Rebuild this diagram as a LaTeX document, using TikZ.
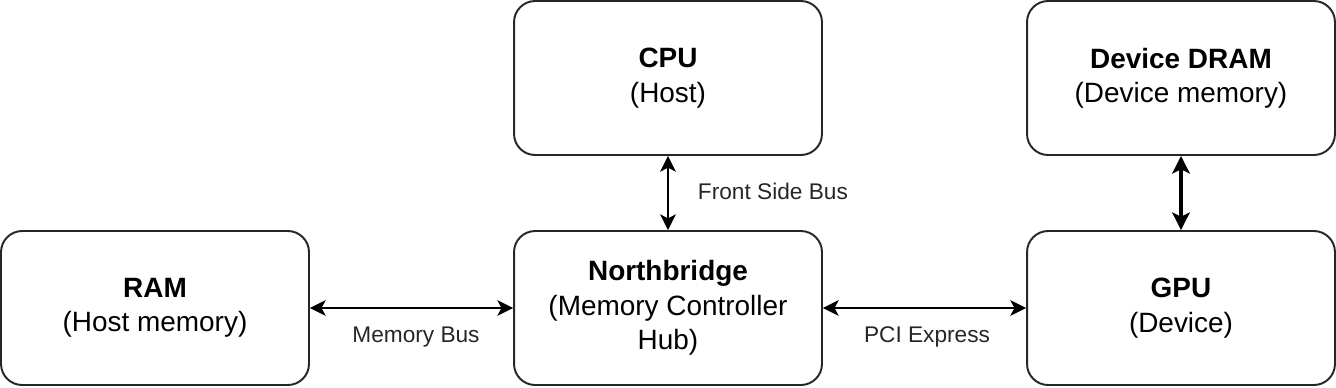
\documentclass[tikz,border=0pt]{standalone}
\usepackage{fontspec}
\setmainfont{Liberation Sans}
\usetikzlibrary{arrows.meta}

\begin{document}
\begin{tikzpicture}[
    x=0.02cm, y=-0.02cm,
    box/.style={draw=black!85, line width=1.1pt, rounded corners=12pt, align=center,
        minimum width=6.16cm, minimum height=3.08cm, inner sep=2pt,
        font=\fontsize{15.9}{19.6}\selectfont},
    lbl/.style={font=\fontsize{12.9}{15}\selectfont, text=black!85, inner sep=0pt},
    bus/.style={{Stealth[length=9pt, width=9pt, inset=2.4pt]}-{Stealth[length=9pt, width=9pt, inset=2.4pt]}, line width=1.1pt},
    membus/.style={{Stealth[length=10pt, width=10pt, inset=2.4pt]}-{Stealth[length=10pt, width=10pt, inset=2.4pt]}, line width=2.2pt}]

    \useasboundingbox (0,0) rectangle (1336,387);

    % host side
    \node[box] (cpu) at (668,78) {\textbf{CPU}\\(Host)};
    \node[box] (nb) at (668,308) {\textbf{Northbridge}\\(Memory Controller\\Hub)};
    \node[box] (ram) at (155,308) {\textbf{RAM}\\(Host memory)};

    % device side
    \node[box] (dram) at (1181,78) {\textbf{Device DRAM}\\(Device memory)};
    \node[box] (gpu) at (1181,308) {\textbf{GPU}\\(Device)};

    % buses
    \draw[bus] (cpu) -- node[lbl, anchor=west, xshift=0.58cm, yshift=0.04cm] {Front Side Bus} (nb);
    \draw[bus] (ram) -- node[lbl, yshift=-0.58cm, xshift=0.09cm] {Memory Bus} (nb);
    \draw[bus] (nb) -- node[lbl, yshift=-0.58cm, xshift=0.05cm] {PCI Express} (gpu);
    \draw[membus] (dram) -- (gpu);
\end{tikzpicture}
\end{document}
